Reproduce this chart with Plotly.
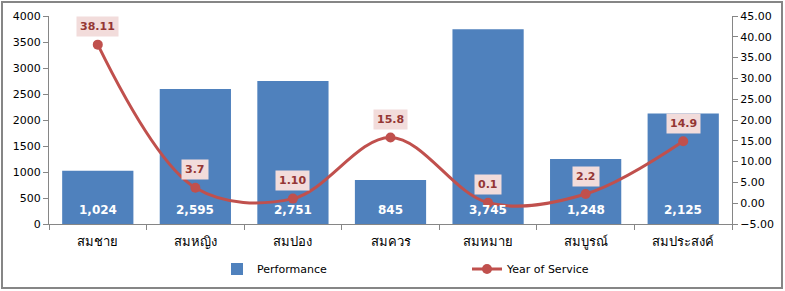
import plotly.graph_objects as go

categories = ["สมชาย", "สมหญิง", "สมปอง", "สมควร", "สมหมาย", "สมบูรณ์", "สมประสงค์"]
performance = [1024, 2595, 2751, 845, 3745, 1248, 2125]
years = [38.11, 3.7, 1.10, 15.8, 0.1, 2.2, 14.9]
year_labels = ["38.11", "3.7", "1.10", "15.8", "0.1", "2.2", "14.9"]

FONT = "DejaVu Sans, Tahoma, sans-serif"
BLUE = "#4f81bd"
RED = "#c0504d"

W, H = 785, 291
L, R, T, B = 49, 53, 16, 67
pw, ph = W - L - R, H - T - B


def px_x(p):
    return (p - L) / pw


def px_y(p):
    return 1 - (p - T) / ph


fig = go.Figure()
fig.add_trace(go.Bar(
    x=categories, y=performance, name="Performance",
    marker=dict(color=BLUE, line=dict(width=0)), width=0.73,
    yaxis="y", hoverinfo="skip", legend="legend",
))
fig.add_trace(go.Scatter(
    x=categories, y=years, name="Year of Service", yaxis="y2",
    mode="lines+markers", line=dict(color=RED, width=3, shape="spline", smoothing=1),
    marker=dict(color=RED, size=10), hoverinfo="skip", legend="legend2",
))

annotations = []
for c, v in zip(categories, performance):
    annotations.append(dict(
        x=c, y=0, xref="x", yref="y", text=f"<b>{v:,}</b>", showarrow=False,
        yanchor="middle", yshift=14, font=dict(family=FONT, size=12, color="white"),
    ))
for c, v, t in zip(categories, years, year_labels):
    annotations.append(dict(
        x=c, y=v, xref="x", yref="y2", text=f"<b>{t}</b>", showarrow=False,
        yanchor="middle", yshift=18, bgcolor="#f2dcdb", borderpad=3,
        font=dict(family=FONT, size=11, color="#943634"),
    ))

legend_common = dict(
    orientation="h", xanchor="left", yanchor="middle", y=px_y(269),
    font=dict(size=11), bgcolor="rgba(0,0,0,0)", itemwidth=30,
)

fig.update_layout(
    width=W, height=H,
    margin=dict(l=L, r=R, t=T, b=B, autoexpand=False),
    paper_bgcolor="white", plot_bgcolor="white",
    font=dict(family=FONT, size=11, color="black"),
    bargap=0.27,
    showlegend=True,
    xaxis=dict(
        showline=True, linecolor="#868686", linewidth=1,
        ticks="outside", tickson="boundaries", ticklen=5, tickcolor="#868686",
        tickfont=dict(size=13), showgrid=False, ticklabelstandoff=5,
    ),
    yaxis=dict(
        range=[0, 4000], dtick=500, showline=True, linecolor="#868686",
        ticks="outside", ticklen=5, tickcolor="#868686", showgrid=False,
        zeroline=False, tickformat="d",
    ),
    yaxis2=dict(
        range=[-5, 45], dtick=5, overlaying="y", side="right", showline=True,
        linecolor="#868686", ticks="outside", ticklen=5, tickcolor="#868686",
        showgrid=False, zeroline=False, tickformat=".2f",
    ),
    legend=dict(x=px_x(217), **legend_common),
    legend2=dict(x=px_x(467), **legend_common),
    annotations=annotations,
    shapes=[dict(
        type="rect", xref="paper", yref="paper",
        x0=px_x(2), x1=px_x(782), y0=px_y(288), y1=px_y(2),
        line=dict(color="#868686", width=2), fillcolor="rgba(0,0,0,0)", layer="below",
    )],
)

fig.write_html("out.html")
